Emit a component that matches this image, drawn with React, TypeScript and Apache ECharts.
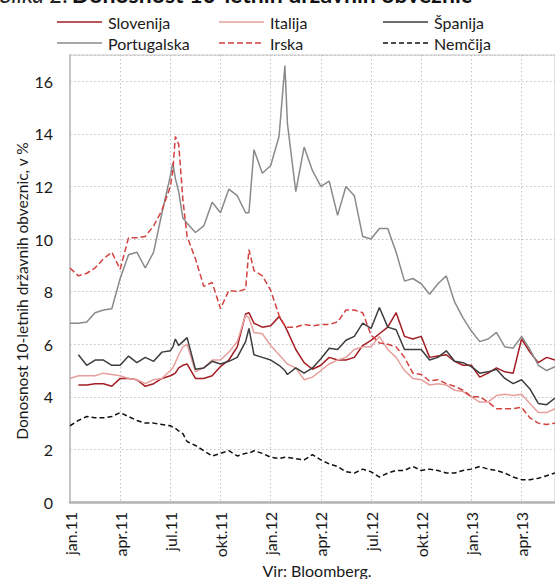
import React, { useEffect, useRef } from "react";
import * as echarts from "echarts";

// x positions in months since 1 Jan 2011
const months = [
  0, 0.5, 1, 1.5, 2, 2.5, 3, 3.5, 4, 4.5, 5, 5.5, 6, 6.15, 6.3, 6.5, 6.75, 7,
  7.5, 8, 8.5, 9, 9.5, 10, 10.5, 10.7, 11, 11.5, 12, 12.5, 12.85, 13, 13.5, 14,
  14.5, 15, 15.5, 16, 16.5, 17, 17.5, 18, 18.5, 19, 19.5, 20, 20.5, 21, 21.5,
  22, 22.5, 23, 23.5, 24, 24.5, 25, 25.5, 26, 26.5, 27, 27.5, 28, 28.5, 29,
];

const tickLabels = [
  "jan.11", "apr.11", "jul.11", "okt.11", "jan.12",
  "apr.12", "jul.12", "okt.12", "jan.13", "apr.13",
];

const slovenija = [
  null, 4.45, 4.45, 4.5, 4.5, 4.4, 4.7, 4.7, 4.65, 4.4, 4.5, 4.7, 4.8, 4.85, 4.9, 5.1, 5.2, 5.25,
  4.7, 4.7, 4.8, 5.15, 5.4, 5.9, 7.15, 7.2, 6.8, 6.65, 6.7, 7.05, 6.7, 6.5, 5.8, 5.3,
  5.05, 5.2, 5.5, 5.4, 5.4, 5.5, 5.95, 6.15, 6.4, 6.65, 7.2, 6.3, 6.2, 6.3, 5.5,
  5.55, 5.6, 5.35, 5.2, 5.2, 4.75, 4.9, 5.1, 4.95, 4.9, 6.2, 5.7, 5.3, 5.5, 5.4,
];

const italija = [
  4.7, 4.8, 4.8, 4.8, 4.9, 4.85, 4.8, 4.7, 4.65, 4.5, 4.65, 4.7, 5.0, 5.1, 5.3, 5.6, 5.9, 6.0,
  4.95, 5.1, 5.4, 5.4, 5.7, 6.1, 7.1, 7.0, 6.45, 6.4, 5.95, 5.6, 5.35, 5.25, 5.1, 4.65,
  4.75, 5.0, 5.25, 5.4, 5.5, 5.8, 5.9, 5.9, 6.3, 5.8, 5.5, 5.0, 4.7, 4.65, 4.45,
  4.5, 4.45, 4.25, 4.2, 4.0, 3.8, 3.8, 4.05, 4.1, 4.05, 4.1, 3.75, 3.4, 3.4, 3.55,
];

const spanija = [
  null, 5.6, 5.2, 5.4, 5.4, 5.2, 5.2, 5.55, 5.3, 5.5, 5.35, 5.7, 5.75, 5.9, 6.2, 5.95, 6.1, 6.25,
  5.05, 5.1, 5.35, 5.25, 5.35, 5.5, 6.1, 6.6, 5.6, 5.5, 5.4, 5.2, 5.0, 4.85, 5.1, 4.9,
  5.1, 5.45, 5.85, 5.8, 6.15, 6.3, 6.8, 6.6, 7.4, 6.65, 6.55, 5.8, 5.8, 5.8, 5.4,
  5.5, 5.75, 5.35, 5.3, 5.15, 4.9, 4.95, 5.05, 4.7, 4.5, 4.65, 4.3, 3.75, 3.7, 3.95,
];

const portugalska = [
  6.8, 6.8, 6.85, 7.2, 7.3, 7.35, 8.5, 9.4, 9.5, 8.9, 9.5, 11.0, 12.4, 12.9, 12.3, 11.8, 10.8, 10.6,
  10.25, 10.5, 11.4, 11.0, 11.9, 11.65, 11.0, 11.0, 13.4, 12.5, 12.8, 13.9, 16.6, 14.4, 11.8, 13.5,
  12.6, 12.0, 12.2, 10.9, 12.0, 11.65, 10.1, 10.0, 10.4, 10.4, 9.5, 8.4, 8.5, 8.3, 7.9,
  8.3, 8.6, 7.6, 7.0, 6.5, 6.1, 6.2, 6.45, 5.9, 5.85, 6.3, 5.8, 5.2, 5.0, 5.15,
];

const irska = [
  8.9, 8.6, 8.7, 8.9, 9.25, 9.5, 8.85, 10.05, 10.05, 10.1, 10.5, 11.1, 12.0, 12.6, 13.9, 13.6, 11.5, 10.1,
  9.25, 8.2, 8.35, 7.35, 8.05, 8.0, 8.1, 9.6, 8.8, 8.6, 8.05, 7.1, 6.7, 6.65, 6.65, 6.75,
  6.7, 6.75, 6.75, 6.85, 7.3, 7.3, 7.2, 6.35, 6.05, 6.0, 5.9, 5.5, 4.9, 4.85, 4.6,
  4.65, 4.5, 4.4, 4.25, 4.0, 4.0, 3.8, 3.55, 3.55, 3.55, 3.6, 3.2, 3.0, 2.95, 3.0,
];

const nemcija = [
  2.9, 3.1, 3.25, 3.2, 3.2, 3.25, 3.4, 3.25, 3.1, 3.0, 3.0, 2.95, 2.9, 2.85, 2.8, 2.7, 2.6, 2.3,
  2.15, 1.95, 1.75, 1.85, 1.95, 1.75, 1.85, 1.85, 1.95, 1.85, 1.7, 1.65, 1.7, 1.7, 1.65, 1.6,
  1.8, 1.6, 1.45, 1.35, 1.15, 1.1, 1.25, 1.15, 0.95, 1.1, 1.2, 1.2, 1.35, 1.2, 1.25,
  1.2, 1.1, 1.1, 1.2, 1.25, 1.35, 1.25, 1.2, 1.1, 0.95, 0.85, 0.85, 0.9, 1.0, 1.1,
];

const FONT = "Lato";

const seriesDefs = [
  { name: "Slovenija", data: slovenija, color: "#a31d24", dash: null as number[] | null },
  { name: "Italija", data: italija, color: "#e6a09d", dash: null },
  { name: "Španija", data: spanija, color: "#3d3d3d", dash: null },
  { name: "Portugalska", data: portugalska, color: "#8a8a8a", dash: null },
  { name: "Irska", data: irska, color: "#d2423f", dash: [6, 3] },
  { name: "Nemčija", data: nemcija, color: "#111111", dash: [5, 3] },
];

const legendLefts = [57, 219, 383];
const legendRows = [22, 43];

export default function App() {
  const ref = useRef<HTMLDivElement>(null);
  useEffect(() => {
    if (!ref.current) return;
    const chart = echarts.init(ref.current, null, { renderer: "svg" });

    const legendGraphics: any[] = [];
    seriesDefs.forEach((s, i) => {
      const x = legendLefts[i % 3];
      const y = legendRows[Math.floor(i / 3)];
      legendGraphics.push({
        type: "line",
        shape: { x1: x, y1: y, x2: x + 45, y2: y },
        style: { stroke: s.color, lineWidth: 1.5, lineDash: s.dash || undefined },
      });
      legendGraphics.push({
        type: "text",
        x: x + 51,
        y: y,
        style: {
          text: s.name,
          fontFamily: FONT,
          fontSize: 16,
          fill: "#1a1a1a",
          align: "left",
          verticalAlign: "middle",
        },
      });
    });

    chart.setOption({
      animation: false,
      backgroundColor: "#ffffff",
      textStyle: { fontFamily: FONT },
      grid: {
        left: 70,
        right: 0,
        top: 55,
        bottom: 77,
        show: true,
        borderColor: "#c4c4c4",
        borderWidth: 1,
      },
      xAxis: {
        type: "value",
        min: 0,
        max: 29,
        interval: 3,
        axisLine: { show: true, lineStyle: { color: "#b4b4b4", width: 2.5 } },
        axisTick: { show: false },
        axisLabel: {
          rotate: 90,
          margin: 10,
          fontFamily: FONT,
          fontSize: 16,
          color: "#1a1a1a",
          formatter: (v: number) => (v % 3 === 0 ? tickLabels[v / 3] || "" : ""),
        },
        splitLine: { show: true, lineStyle: { color: "#c0c0c0", type: [1.5, 2.5], width: 1 } },
      },
      yAxis: {
        type: "value",
        min: 0,
        max: 17,
        interval: 2,
        axisLine: { show: true, lineStyle: { color: "#c4c4c4", width: 2 } },
        axisTick: { show: false },
        axisLabel: {
          margin: 17,
          fontFamily: FONT,
          fontSize: 16,
          color: "#1a1a1a",
          formatter: (v: number) => (v % 2 === 0 ? String(v) : ""),
        },
        splitLine: { show: true, lineStyle: { color: "#c0c0c0", type: [1.5, 2.5], width: 1 } },
      },
      graphic: [
        {
          type: "text",
          x: 0,
          y: -6,
          style: {
            text: "{a|Slika 2:} {b|Donosnost 10-letnih državnih obveznic}",
            verticalAlign: "middle",
            rich: {
              a: { fontFamily: FONT, fontSize: 23, fontStyle: "italic", fill: "#222" },
              b: { fontFamily: FONT, fontSize: 23, fontWeight: "bold", fill: "#111" },
            },
          },
        },
        {
          type: "text",
          x: 22,
          y: 291,
          rotation: Math.PI / 2,
          style: {
            text: "Donosnost 10-letnih državnih obveznic, v %",
            fontFamily: FONT,
            fontSize: 15.5,
            fill: "#1a1a1a",
            align: "center",
            verticalAlign: "middle",
          },
        },
        {
          type: "text",
          x: 317,
          y: 570,
          style: {
            text: "Vir: Bloomberg.",
            fontFamily: FONT,
            fontSize: 16,
            fill: "#1a1a1a",
            align: "center",
            verticalAlign: "middle",
          },
        },
        ...legendGraphics,
      ],
      series: seriesDefs.map((s) => ({
        name: s.name,
        type: "line",
        symbol: "none",
        connectNulls: false,
        color: s.color,
        lineStyle: { color: s.color, width: 1.5, type: s.dash || "solid" },
        data: months.map((m, i) => [m, s.data[i]]),
      })),
    });
    return () => chart.dispose();
  }, []);
  return (
    <div
      ref={ref}
      style={{ position: "fixed", left: 0, top: 0, width: 555, height: 579 }}
    />
  );
}
